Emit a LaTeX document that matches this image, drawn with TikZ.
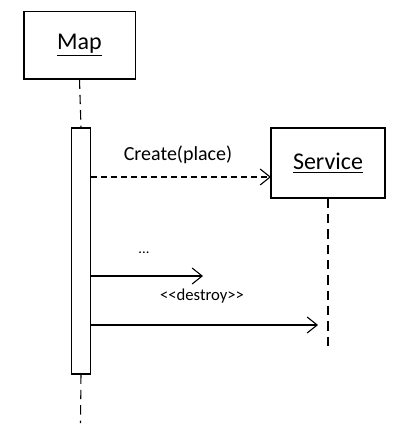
\documentclass[tikz,border=0pt]{standalone}
\usepackage{fontspec}
\setmainfont{Carlito}
\usetikzlibrary{arrows.meta,positioning}

\begin{document}
\begin{tikzpicture}[x=0.75pt,y=-0.75pt,line width=0.8pt,
    obj/.style={draw,rectangle,font=\fontsize{18}{20}\selectfont,inner sep=0pt},
    life/.style={dash pattern=on 7pt off 4.5pt},
    msg/.style={-{Straight Barb[length=7.5pt,width=12pt,line width=0.8pt]}},
    lbl/.style={font=\fontsize{15}{17}\selectfont,inner sep=0pt}]
  \useasboundingbox (0,0) rectangle (400,435);
  % objects
  \node[obj,minimum width=83.3pt,minimum height=50.3pt] (map) at (79.5,45.5) {\underline{Map}};
  \node[obj,minimum width=85.5pt,minimum height=52.5pt] (svc) at (328,163) {\underline{Service}};
  \node[draw,minimum width=14.3pt,minimum height=184.5pt,inner sep=0pt] (act) at (81,251) {};
  % lifelines
  \coordinate (mapend) at (80.5,423);
  \coordinate (svcend) at (328,347);
  \draw[life] (map.south) -- (act.north);
  \draw[life] (act.south) -- (mapend);
  \draw[life] (svc.south) -- (svcend);
  % messages
  \coordinate (create) at (271,177);
  \coordinate (call) at (203,276);
  \coordinate (destroy) at (318,325);
  \draw[msg,dash pattern=on 4.5pt off 3pt] (act.east |- create) -- (create);
  \draw[msg] (act.east |- call) -- (call);
  \draw[msg] (act.east |- destroy) -- (destroy);
  \node[lbl] (createlbl) at (178,155) {Create(place)};
  \node[lbl,font=\fontsize{11}{13}\selectfont] (dots) at (144,253) {...};
  \node[lbl,font=\fontsize{12.5}{14}\selectfont] (destroylbl) at (202,296) {<{}<destroy>{}>};
\end{tikzpicture}
\end{document}
